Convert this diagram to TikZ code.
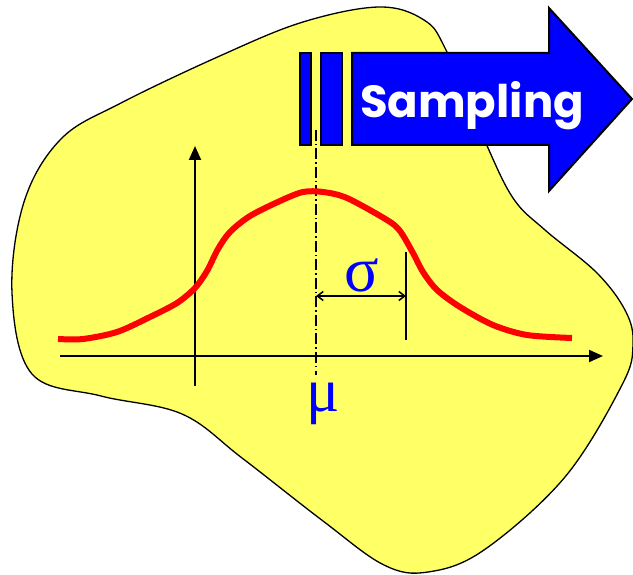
\documentclass[tikz,border=0pt]{standalone}
\usepackage{fontspec}
\setmainfont{Liberation Serif}
\newfontfamily\labelfont{Poppins Bold}
\usetikzlibrary{arrows.meta}
\definecolor{blobyellow}{HTML}{FFFF66}
\definecolor{arrowblue}{HTML}{0000FF}
\tikzset{
  blob/.style={fill=blobyellow, draw=black, line width=1.3pt},
  axis/.style={draw=black, line width=2pt, -{Triangle[length=14pt,width=12pt]}},
  bluebox/.style={fill=arrowblue, draw=black, line width=2pt, line join=miter},
  density/.style={draw=red, line width=6pt},
  meanline/.style={draw=black, line width=1.5pt, dash pattern=on 11pt off 3pt on 1.5pt off 3pt},
  thin/.style={draw=black, line width=1.5pt},
  greek/.style={text=arrowblue, inner sep=0pt},
}
\begin{document}
\begin{tikzpicture}[x=1pt,y=-1pt]
\useasboundingbox (0,0) rectangle (633,575);
% blob
\path[blob] plot[smooth cycle, tension=0.6] coordinates {
 (379,7) (424,20) (446,50) (484,139) (513,198) (545,230) (597,273) (626,312)
 (633,345) (622,385) (565,477) (484,550) (428,572) (384,565) (323,521)
 (242,458) (182,414) (101,396) (32,374) (12,293) (24,202) (61,139)
 (121,103) (222,55) (303,22)};
% sampling arrow
\path[bluebox] (300,53) rectangle (311,145);
\path[bluebox] (321,53) rectangle (342,145);
\path[bluebox] (352,53) -- (549,53) -- (549,8) -- (632,99) -- (549,191) -- (549,145) -- (352,145) -- cycle;
\node[text=white, font=\labelfont\fontsize{45}{47}\selectfont, anchor=base, inner sep=0pt] (samp) at (472,118) {Sampling};
% axes
\coordinate (xs) at (60,356);
\coordinate (xe) at (603,356);
\coordinate (ys) at (195,386);
\coordinate (ye) at (195,146);
\draw[axis] (xs) -- (xe);
\draw[axis] (ys) -- (ye);
% mean line
\coordinate (mtop) at (316,130);
\coordinate (mbot) at (316,375);
\draw[meanline] (mtop) -- (mbot);
% density curve
\draw[density] plot[smooth, tension=0.5] coordinates {
 (58,339) (83,339) (117,332) (150,317) (177,303) (195,288) (207,271)
 (218,249) (230,232) (250,216) (280,201) (303,192) (323,192) (347,198)
 (387,220) (400,231) (413,253) (423,272) (437,290) (460,307) (493,325)
 (527,335) (572,338)};
% sigma
\coordinate (stop) at (406,252);
\coordinate (sbot) at (406,340);
\draw[thin] (stop) -- (sbot);
\coordinate (sa) at (316,296);
\coordinate (sb) at (406,296);
\draw[thin, {Straight Barb[length=6pt,width=9pt]}-{Straight Barb[length=6pt,width=9pt]}] (sa) -- (sb);
\node[greek, font=\fontsize{64}{66}\selectfont, anchor=base] (sigma) at (362,292) {σ};
\node[greek, font=\fontsize{62}{64}\selectfont, anchor=base] (mu) at (323,411) {μ};
\end{tikzpicture}
\end{document}
